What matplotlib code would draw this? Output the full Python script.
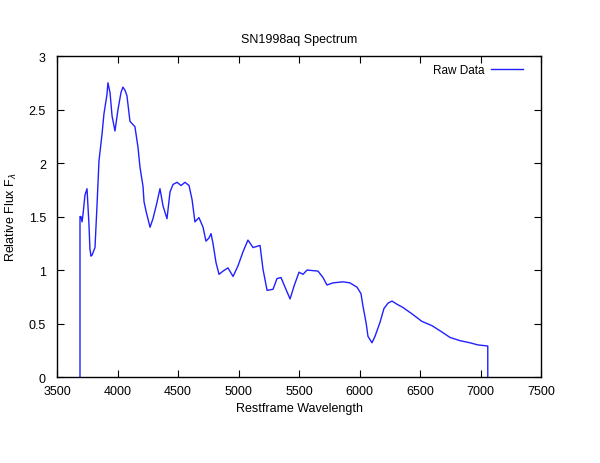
import matplotlib
matplotlib.use("Agg")
import matplotlib.pyplot as plt
import numpy as np

plt.rcParams['font.family'] = ['Liberation Sans', 'DejaVu Sans']

# values (wavelength in Angstrom, relative flux)
wavelength = [3690, 3698, 3707, 3715, 3731, 3748, 3764, 3772, 3781, 3790, 3814,
              3830, 3847, 3872, 3888, 3913, 3921, 3938, 3955, 3979, 4004, 4029,
              4045, 4062, 4078, 4103, 4144, 4169, 4186, 4211, 4219, 4236, 4269,
              4293, 4326, 4351, 4376, 4409, 4434, 4459, 4492, 4525, 4558, 4591,
              4616, 4640, 4673, 4707, 4731, 4756, 4773, 4789, 4814, 4839, 4872,
              4913, 4955, 4996, 5037, 5078, 5120, 5178, 5202, 5236, 5285, 5318,
              5351, 5392, 5426, 5459, 5500, 5533, 5566, 5657, 5698, 5731, 5781,
              5864, 5921, 5979, 6012, 6029, 6054, 6070, 6103, 6128, 6169, 6202,
              6235, 6268, 6310, 6359, 6434, 6516, 6599, 6682, 6748, 6830, 6913,
              6979, 7060]
flux = [1.50, 1.50, 1.45, 1.52, 1.70, 1.76, 1.43, 1.20, 1.13, 1.14, 1.21,
        1.59, 2.02, 2.27, 2.46, 2.64, 2.75, 2.66, 2.44, 2.30, 2.50, 2.66,
        2.71, 2.68, 2.63, 2.39, 2.34, 2.15, 1.96, 1.78, 1.64, 1.55, 1.40,
        1.48, 1.63, 1.76, 1.60, 1.48, 1.73, 1.80, 1.82, 1.79, 1.82, 1.79,
        1.66, 1.45, 1.49, 1.40, 1.27, 1.30, 1.34, 1.25, 1.07, 0.96, 0.99,
        1.02, 0.94, 1.04, 1.17, 1.28, 1.21, 1.23, 1.01, 0.81, 0.82, 0.92,
        0.93, 0.82, 0.73, 0.85, 0.98, 0.96, 1.00, 0.99, 0.93, 0.86, 0.88,
        0.89, 0.88, 0.84, 0.78, 0.66, 0.51, 0.38, 0.32, 0.38, 0.51, 0.64,
        0.69, 0.71, 0.68, 0.65, 0.59, 0.52, 0.48, 0.42, 0.37, 0.34, 0.32,
        0.30, 0.29]

x_ticks = [3500, 4000, 4500, 5000, 5500, 6000, 6500, 7000, 7500]
y_ticks = [0, 0.5, 1, 1.5, 2, 2.5, 3]
y_tick_labels = ['0', '0.5', '1', '1.5', '2', '2.5', '3']

# histogram-style ends drop to zero like gnuplot histeps
xs = np.concatenate([[wavelength[0]], wavelength, [wavelength[-1]]])
ys = np.concatenate([[0], flux, [0]])

fig = plt.figure(figsize=(6, 4.64), dpi=100)
ax = fig.add_axes([0.095, 0.1853, 0.8067, 0.6917])

ax.plot(xs, ys, color='#2020ff', lw=1.0, label='Raw Data')

ax.set_xlim(3500, 7500)
ax.set_ylim(0, 3)
ax.set_xticks(x_ticks)
ax.set_yticks(y_ticks)
ax.set_yticklabels(y_tick_labels)
ax.tick_params(direction='in', top=True, right=True, length=5, labelsize=9)
ax.tick_params(axis='y', pad=8)
ax.tick_params(axis='x', pad=6)
for s in ax.spines.values():
    s.set_linewidth(1.0)

ax.set_title('SN1998aq Spectrum', fontsize=9, pad=10)
ax.set_xlabel('Restframe Wavelength', fontsize=9, labelpad=3)
ax.set_ylabel(r'Relative Flux F$_\lambda$', fontsize=9, labelpad=7)

ax.legend(loc='upper right', bbox_to_anchor=(0.98, 1.0), frameon=False,
          markerfirst=False, fontsize=8.5, handlelength=2.7, handletextpad=0.6,
          borderaxespad=0.3)

fig.savefig('out.png', dpi=100)
